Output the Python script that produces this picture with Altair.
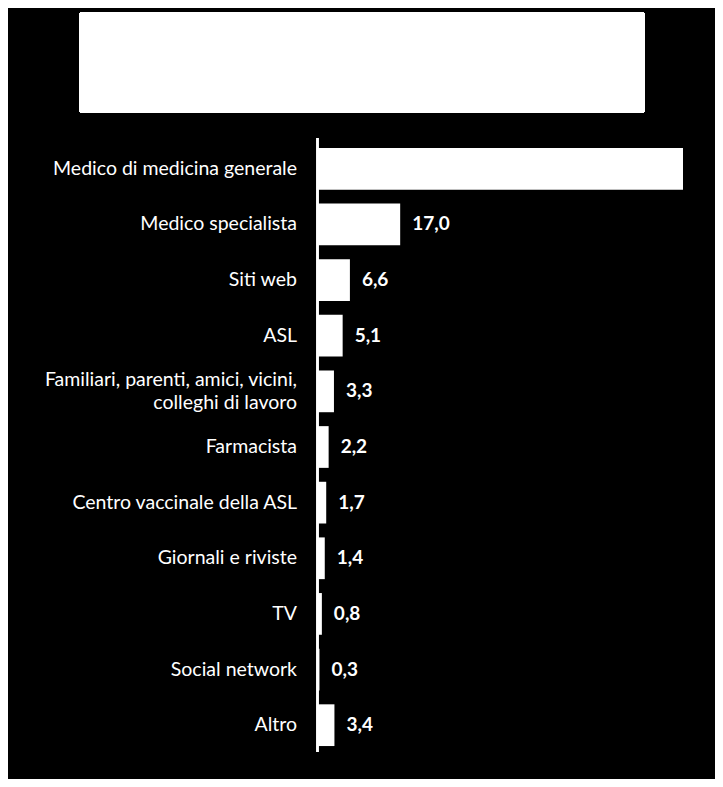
import altair as alt
import pandas as pd

categories = [
    "Medico di medicina generale",
    "Medico specialista",
    "Siti web",
    "ASL",
    "Familiari, parenti, amici, vicini,|colleghi di lavoro",
    "Farmacista",
    "Centro vaccinale della ASL",
    "Giornali e riviste",
    "TV",
    "Social network",
    "Altro",
]
values = [75.5, 17.0, 6.6, 5.1, 3.3, 2.2, 1.7, 1.4, 0.8, 0.3, 3.4]
value_labels = ["75,5", "17,0", "6,6", "5,1", "3,3", "2,2", "1,7", "1,4", "0,8", "0,3", "3,4"]

df = pd.DataFrame({"cat": categories, "value": values, "lab": value_labels})

FONT = "Lato"
XMAX = 75.5
ysc = alt.Y("cat:N", sort=categories, axis=None,
            scale=alt.Scale(paddingInner=0.25, paddingOuter=0.125))
xsc = alt.X("value:Q", axis=None, scale=alt.Scale(domain=[0, XMAX], nice=False, zero=True))

bars = alt.Chart(df).mark_bar(color="white", cornerRadius=0).encode(x=xsc, y=ysc)

# labels of bars running past the plot edge are hidden, as in the reference
vals = alt.Chart(df).transform_filter(
    f"datum.value < {XMAX}"
).mark_text(
    color="white", font=FONT, fontSize=19, fontWeight="bold",
    align="left", baseline="middle", dx=12
).encode(x=xsc, y=ysc, text="lab:N")

LH = 23
base_cats = alt.Chart(df).transform_calculate(lines="split(datum.cat, '|')")
cats_single = base_cats.transform_filter("indexof(datum.cat, '|') < 0").mark_text(
    color="white", font=FONT, fontSize=19.5, align="right", baseline="middle",
    lineHeight=LH
).encode(x=alt.value(-21), y=ysc, text="lines:N")
cats_multi = base_cats.transform_filter("indexof(datum.cat, '|') >= 0").mark_text(
    color="white", font=FONT, fontSize=19.5, align="right", baseline="middle",
    lineHeight=LH, dy=-LH / 2
).encode(x=alt.value(-21), y=ysc, text="lines:N")

axis_line = alt.Chart(df).mark_rule(color="white", strokeWidth=1.5).encode(
    x=alt.value(-0.5), y=alt.value(-3), y2=alt.value(611)
)

title_box = alt.Chart(df).mark_rect(
    color="white", cornerRadius=3
).encode(
    x=alt.value(-239), x2=alt.value(327), y=alt.value(-129), y2=alt.value(-28)
)

chart = alt.layer(title_box, bars, axis_line, vals, cats_single, cats_multi).properties(
    width=365, height=612,
    background="black",
    autosize=alt.AutoSizeParams(type="none"),
    padding={"left": 310, "top": 133, "right": 32, "bottom": 26},
).configure_view(stroke=None)

chart.save("out.html", embed_options={"renderer": "svg", "actions": False})
